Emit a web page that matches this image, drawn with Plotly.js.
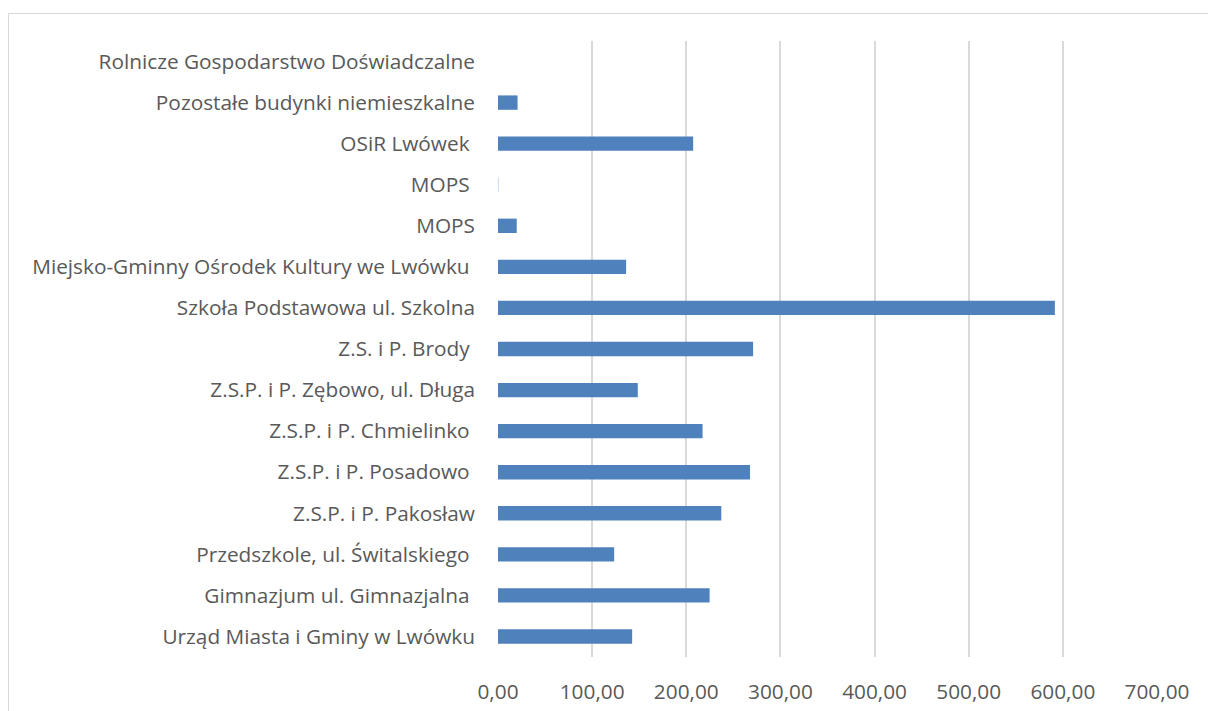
<!DOCTYPE html>
<html>
<head>
<meta charset="utf-8">
<script src="https://cdn.plot.ly/plotly-3.0.1.min.js"></script>
<style>
html,body{margin:0;padding:0;background:#fff;overflow:hidden;}
#frame{position:absolute;left:8px;top:13px;width:1220px;height:720px;border:1px solid #d9d9d9;box-sizing:border-box;}
#chart{position:absolute;left:0;top:0;width:1208px;height:711px;}
</style>
</head>
<body>
<div id="frame"></div>
<div id="chart"></div>
<script>
// categories listed bottom to top
var categories = [
  "Urząd Miasta i Gminy w Lwówku",
  "Gimnazjum ul. Gimnazjalna ",
  "Przedszkole, ul. Świtalskiego ",
  "Z.S.P. i P. Pakosław",
  "Z.S.P. i P. Posadowo ",
  "Z.S.P. i P. Chmielinko ",
  "Z.S.P. i P. Zębowo, ul. Długa",
  "Z.S. i P. Brody ",
  "Szkoła Podstawowa ul. Szkolna",
  "Miejsko-Gminny Ośrodek Kultury we Lwówku ",
  "MOPS",
  "MOPS ",
  "OSiR Lwówek ",
  "Pozostałe budynki niemieszkalne",
  "Rolnicze Gospodarstwo Doświadczalne"
];
var values = [142.5, 224.8, 123.4, 237.2, 267.7, 217.3, 148.5, 271.0, 591.5, 136.1, 19.9, 0.3, 207.3, 20.8, 0];
var xTickVals = [0, 100, 200, 300, 400, 500, 600, 700];
var xTickText = ["0,00", "100,00", "200,00", "300,00", "400,00", "500,00", "600,00", "700,00"];

var positions = categories.map(function(_, i){ return i; });

var trace = {
  type: 'bar',
  orientation: 'h',
  x: values,
  y: positions,
  marker: {color: '#4F81BD', line: {width: 0}},
  hoverinfo: 'none'
};

var font = {family: 'Open Sans, Noto Sans, sans-serif', size: 20.8, color: '#595959'};

var layout = {
  width: 1208,
  height: 711,
  margin: {l: 498, r: 51, t: 41, b: 54},
  paper_bgcolor: 'rgba(0,0,0,0)',
  plot_bgcolor: 'rgba(0,0,0,0)',
  showlegend: false,
  bargap: 0.65,
  font: font,
  xaxis: {
    range: [0, 700],
    tickvals: xTickVals,
    ticktext: xTickText,
    showgrid: true,
    gridcolor: '#d9d9d9',
    gridwidth: 2,
    zeroline: false,
    showline: false,
    ticks: '',
    ticklabelstandoff: 20,
    tickfont: font,
    fixedrange: true
  },
  yaxis: {
    range: [-0.5, 14.5],
    tickvals: positions,
    ticktext: categories,
    showgrid: false,
    zeroline: false,
    showline: false,
    ticks: '',
    ticklabelstandoff: 22,
    tickfont: font,
    fixedrange: true
  }
};

Plotly.newPlot('chart', [trace], layout, {staticPlot: true, displayModeBar: false});
</script>
</body>
</html>
